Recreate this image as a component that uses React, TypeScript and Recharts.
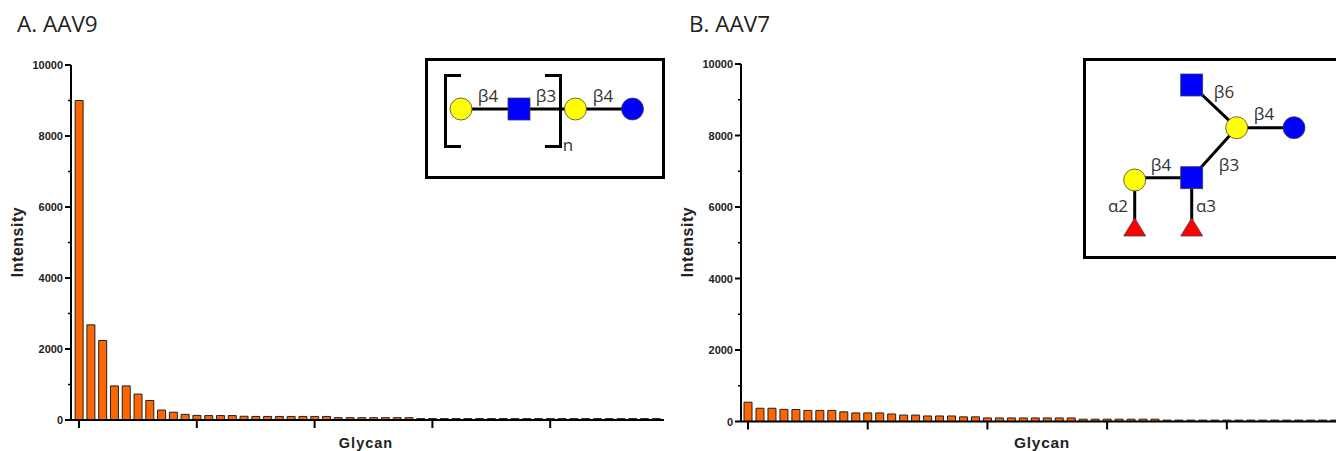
import { BarChart, Bar, XAxis, YAxis } from 'recharts'

const aav9Values = [
  9000, 2680, 2240, 960, 960, 730, 550, 280, 220, 160,
  130, 125, 125, 125, 105, 100, 100, 100, 100, 100,
  100, 100, 65, 65, 65, 65, 65, 65, 65, 40,
  40, 40, 40, 40, 40, 40, 40, 40, 40, 40,
  40, 40, 40, 40, 40, 40, 40, 40, 40, 40,
]
const aav7Values = [
  540, 370, 370, 340, 335, 310, 310, 310, 270, 240,
  240, 240, 210, 180, 180, 155, 155, 155, 130, 130,
  100, 100, 100, 100, 100, 100, 100, 100, 65, 65,
  65, 65, 65, 65, 65, 40, 40, 40, 40, 40,
  40, 40, 40, 40, 40, 40, 40, 40, 40, 40,
]
const yTicks = [0, 1000, 2000, 3000, 4000, 5000, 6000, 7000, 8000, 9000, 10000]
const xTicks = [0, 10, 20, 30, 40]

const AXIS_FONT = '"Liberation Sans", Arial, sans-serif'
const LABEL_FONT = '"Open Sans", sans-serif'

const toRows = (values: number[]) => values.map((intensity, glycan) => ({ glycan, intensity }))

// minor ticks are shorter and carry no label
function YTick({ x, y, payload }: any) {
  const major = payload.value % 2000 === 0
  return (
    <g>
      <line x1={x} x2={x - (major ? 6 : 3)} y1={y} y2={y} stroke="#000" strokeWidth={major ? 2 : 1.5} />
      {major && (
        <text x={x - 8} y={y + 4} textAnchor="end" fontFamily={AXIS_FONT} fontWeight={700} fontSize={11} fill="#222">
          {payload.value}
        </text>
      )}
    </g>
  )
}

function Panel({ values, left, width, top, bottom, domain, barWidth }: any) {
  return (
    <div style={{ position: 'absolute', left, top: 0 }}>
      <BarChart
        width={width}
        height={451}
        data={toRows(values)}
        margin={{ top, right: 0, bottom: 0, left: 0 }}
      >
        <XAxis
          dataKey="glycan"
          type="number"
          domain={domain}
          ticks={xTicks}
          allowDataOverflow
          height={bottom}
          tickFormatter={() => ''}
          tickSize={8}
          axisLine={{ stroke: '#000', strokeWidth: 2 }}
          tickLine={{ stroke: '#000', strokeWidth: 2 }}
        />
        <YAxis
          type="number"
          domain={[0, 10000]}
          ticks={yTicks}
          interval={0}
          width={71}
          tick={<YTick />}
          tickLine={false}
          tickMargin={0}
          tickSize={0}
          axisLine={{ stroke: '#000', strokeWidth: 2 }}
        />
        <Bar
          dataKey="intensity"
          barSize={barWidth}
          fill="#ff6600"
          stroke="#222"
          strokeWidth={1}
          isAnimationActive={false}
        />
      </BarChart>
    </div>
  )
}

function Circle({ x, y, fill }: any) {
  return <circle cx={x} cy={y} r={11} fill={fill} stroke="#444" strokeWidth={0.8} />
}
function Square({ x, y }: any) {
  return <rect x={x - 11} y={y - 11} width={22} height={22} fill="#0000ff" stroke="#444" strokeWidth={0.8} />
}
function Triangle({ x, y }: any) {
  return <polygon points={`${x},${y} ${x + 11},${y + 18} ${x - 11},${y + 18}`} fill="#ff0000" stroke="#444" strokeWidth={0.8} />
}
function Link({ x, y, children }: any) {
  return (
    <text x={x} y={y} textAnchor="middle" fontFamily={LABEL_FONT} fontSize={17} fill="#333">
      {children}
    </text>
  )
}

function Insets() {
  return (
    <svg width={1336} height={451} style={{ position: 'absolute', left: 0, top: 0 }}>
      {/* AAV9 glycan */}
      <rect x={426.5} y={59.5} width={237} height={118} fill="#fff" stroke="#000" strokeWidth={3} />
      <path d="M461 109H632" stroke="#000" strokeWidth={3} />
      <path d="M461 75.5H445.5V146.5H461M545 75.5H560.5V146.5H545" fill="none" stroke="#000" strokeWidth={3} />
      <Circle x={461} y={109} fill="#ffff00" />
      <Square x={519} y={109} />
      <Circle x={575.5} y={109} fill="#ffff00" />
      <Circle x={632.5} y={109} fill="#0000ff" />
      <Link x={488} y={102}>β4</Link>
      <Link x={546} y={102}>β3</Link>
      <Link x={603} y={102}>β4</Link>
      <Link x={568} y={151}>n</Link>

      {/* AAV7 glycan */}
      <rect x={1084.5} y={59.5} width={260} height={198} fill="#fff" stroke="#000" strokeWidth={3} />
      <path
        d="M1191.7 85L1236.7 127.7H1294M1236.7 127.7L1191.7 177.7H1134.7V220M1191.7 177.7V220"
        fill="none"
        stroke="#000"
        strokeWidth={3}
      />
      <Square x={1191.7} y={85} />
      <Circle x={1236.7} y={127.7} fill="#ffff00" />
      <Circle x={1294} y={127.7} fill="#0000ff" />
      <Circle x={1134.7} y={180} fill="#ffff00" />
      <Square x={1191.7} y={177.7} />
      <Triangle x={1134.7} y={218} />
      <Triangle x={1191.7} y={218} />
      <Link x={1224} y={98}>β6</Link>
      <Link x={1264} y={120}>β4</Link>
      <Link x={1229} y={171}>β3</Link>
      <Link x={1161} y={171}>β4</Link>
      <Link x={1118} y={212}>α2</Link>
      <Link x={1206} y={212}>α3</Link>
    </svg>
  )
}

function Caption({ x, y, rotate, size, spacing, children }: any) {
  return (
    <div
      style={{
        position: 'absolute',
        left: x,
        top: y,
        transform: `translate(-50%, -50%)${rotate ? ' rotate(-90deg)' : ''}`,
        fontFamily: AXIS_FONT,
        fontWeight: 700,
        fontSize: size,
        letterSpacing: spacing,
        color: '#222',
        whiteSpace: 'nowrap',
      }}
    >
      {children}
    </div>
  )
}

export default function App() {
  return (
    <div style={{ position: 'fixed', left: 0, top: 0, width: 1336, height: 451, overflow: 'hidden', background: '#fff' }}>
      <Panel values={aav9Values} left={0} width={664} top={65} bottom={31} domain={[-0.68, 49.66]} barWidth={8} />
      <Panel values={aav7Values} left={670} width={666} top={64} bottom={29.5} domain={[-0.585, 49.12]} barWidth={8} />
      <Insets />
      <div style={{ position: 'absolute', left: 17, top: 8, fontFamily: LABEL_FONT, fontSize: 22.5, color: '#222' }}>A. AAV9</div>
      <div style={{ position: 'absolute', left: 689, top: 8, fontFamily: LABEL_FONT, fontSize: 22.5, color: '#222' }}>B. AAV7</div>
      <Caption x={17.5} y={242} rotate size={16} spacing={0.5}>Intensity</Caption>
      <Caption x={687.5} y={242} rotate size={16} spacing={0.5}>Intensity</Caption>
      <Caption x={366} y={443} size={14.5} spacing={1}>Glycan</Caption>
      <Caption x={1042} y={443} size={15.5} spacing={0.7}>Glycan</Caption>
    </div>
  )
}
